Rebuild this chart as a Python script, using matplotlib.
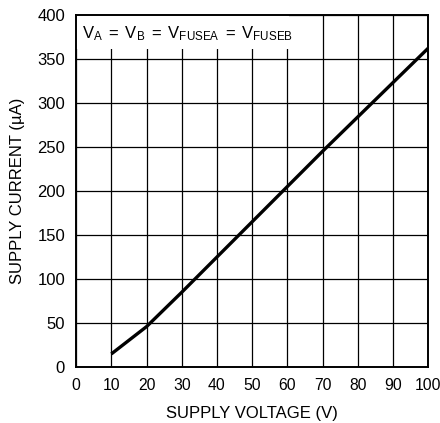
import matplotlib
matplotlib.use("Agg")
import matplotlib.pyplot as plt
from matplotlib.patches import Rectangle

fam = "Liberation Sans"
plt.rcParams['font.family'] = [fam, 'DejaVu Sans']
plt.rcParams['mathtext.fontset'] = 'custom'
plt.rcParams['mathtext.rm'] = fam

voltage = [10, 20, 30, 40, 50, 60, 70, 80, 90, 100]
current = [15, 46, 85, 125, 165, 205, 245, 284, 323, 362]
xticks = list(range(0, 101, 10))
yticks = list(range(0, 401, 50))

fig = plt.figure(figsize=(4.4, 4.23), dpi=100)
ax = fig.add_axes([0.173, 0.132, 0.800, 0.833])
ax.set_xlim(0, 100)
ax.set_ylim(0, 400)
ax.set_xticks(xticks)
ax.set_yticks(yticks)
ax.grid(True, color='black', linewidth=0.9)
ax.set_axisbelow(True)
ax.tick_params(axis='y', length=0, labelsize=12, pad=8)
ax.tick_params(axis='x', length=0, labelsize=11.3, pad=8)
for s in ax.spines.values():
    s.set_linewidth(1.4)
ax.plot(voltage, current, color='black', linewidth=2.4, solid_capstyle='butt', zorder=3)
ax.add_patch(Rectangle((0, 361), 60.6, 39, facecolor='white', edgecolor='none', zorder=2))
ax.text(1.6, 373, r'$\mathregular{V_A\:=\:V_B\:=\:V_{FUSEA}\:=\:V_{FUSEB}}$',
        fontsize=12, va='baseline', ha='left', zorder=4)
ax.set_xlabel('SUPPLY VOLTAGE (V)', fontsize=12, labelpad=9)
ax.set_ylabel('SUPPLY CURRENT (µA)', fontsize=12, labelpad=9)
fig.savefig('out.png', dpi=100)
